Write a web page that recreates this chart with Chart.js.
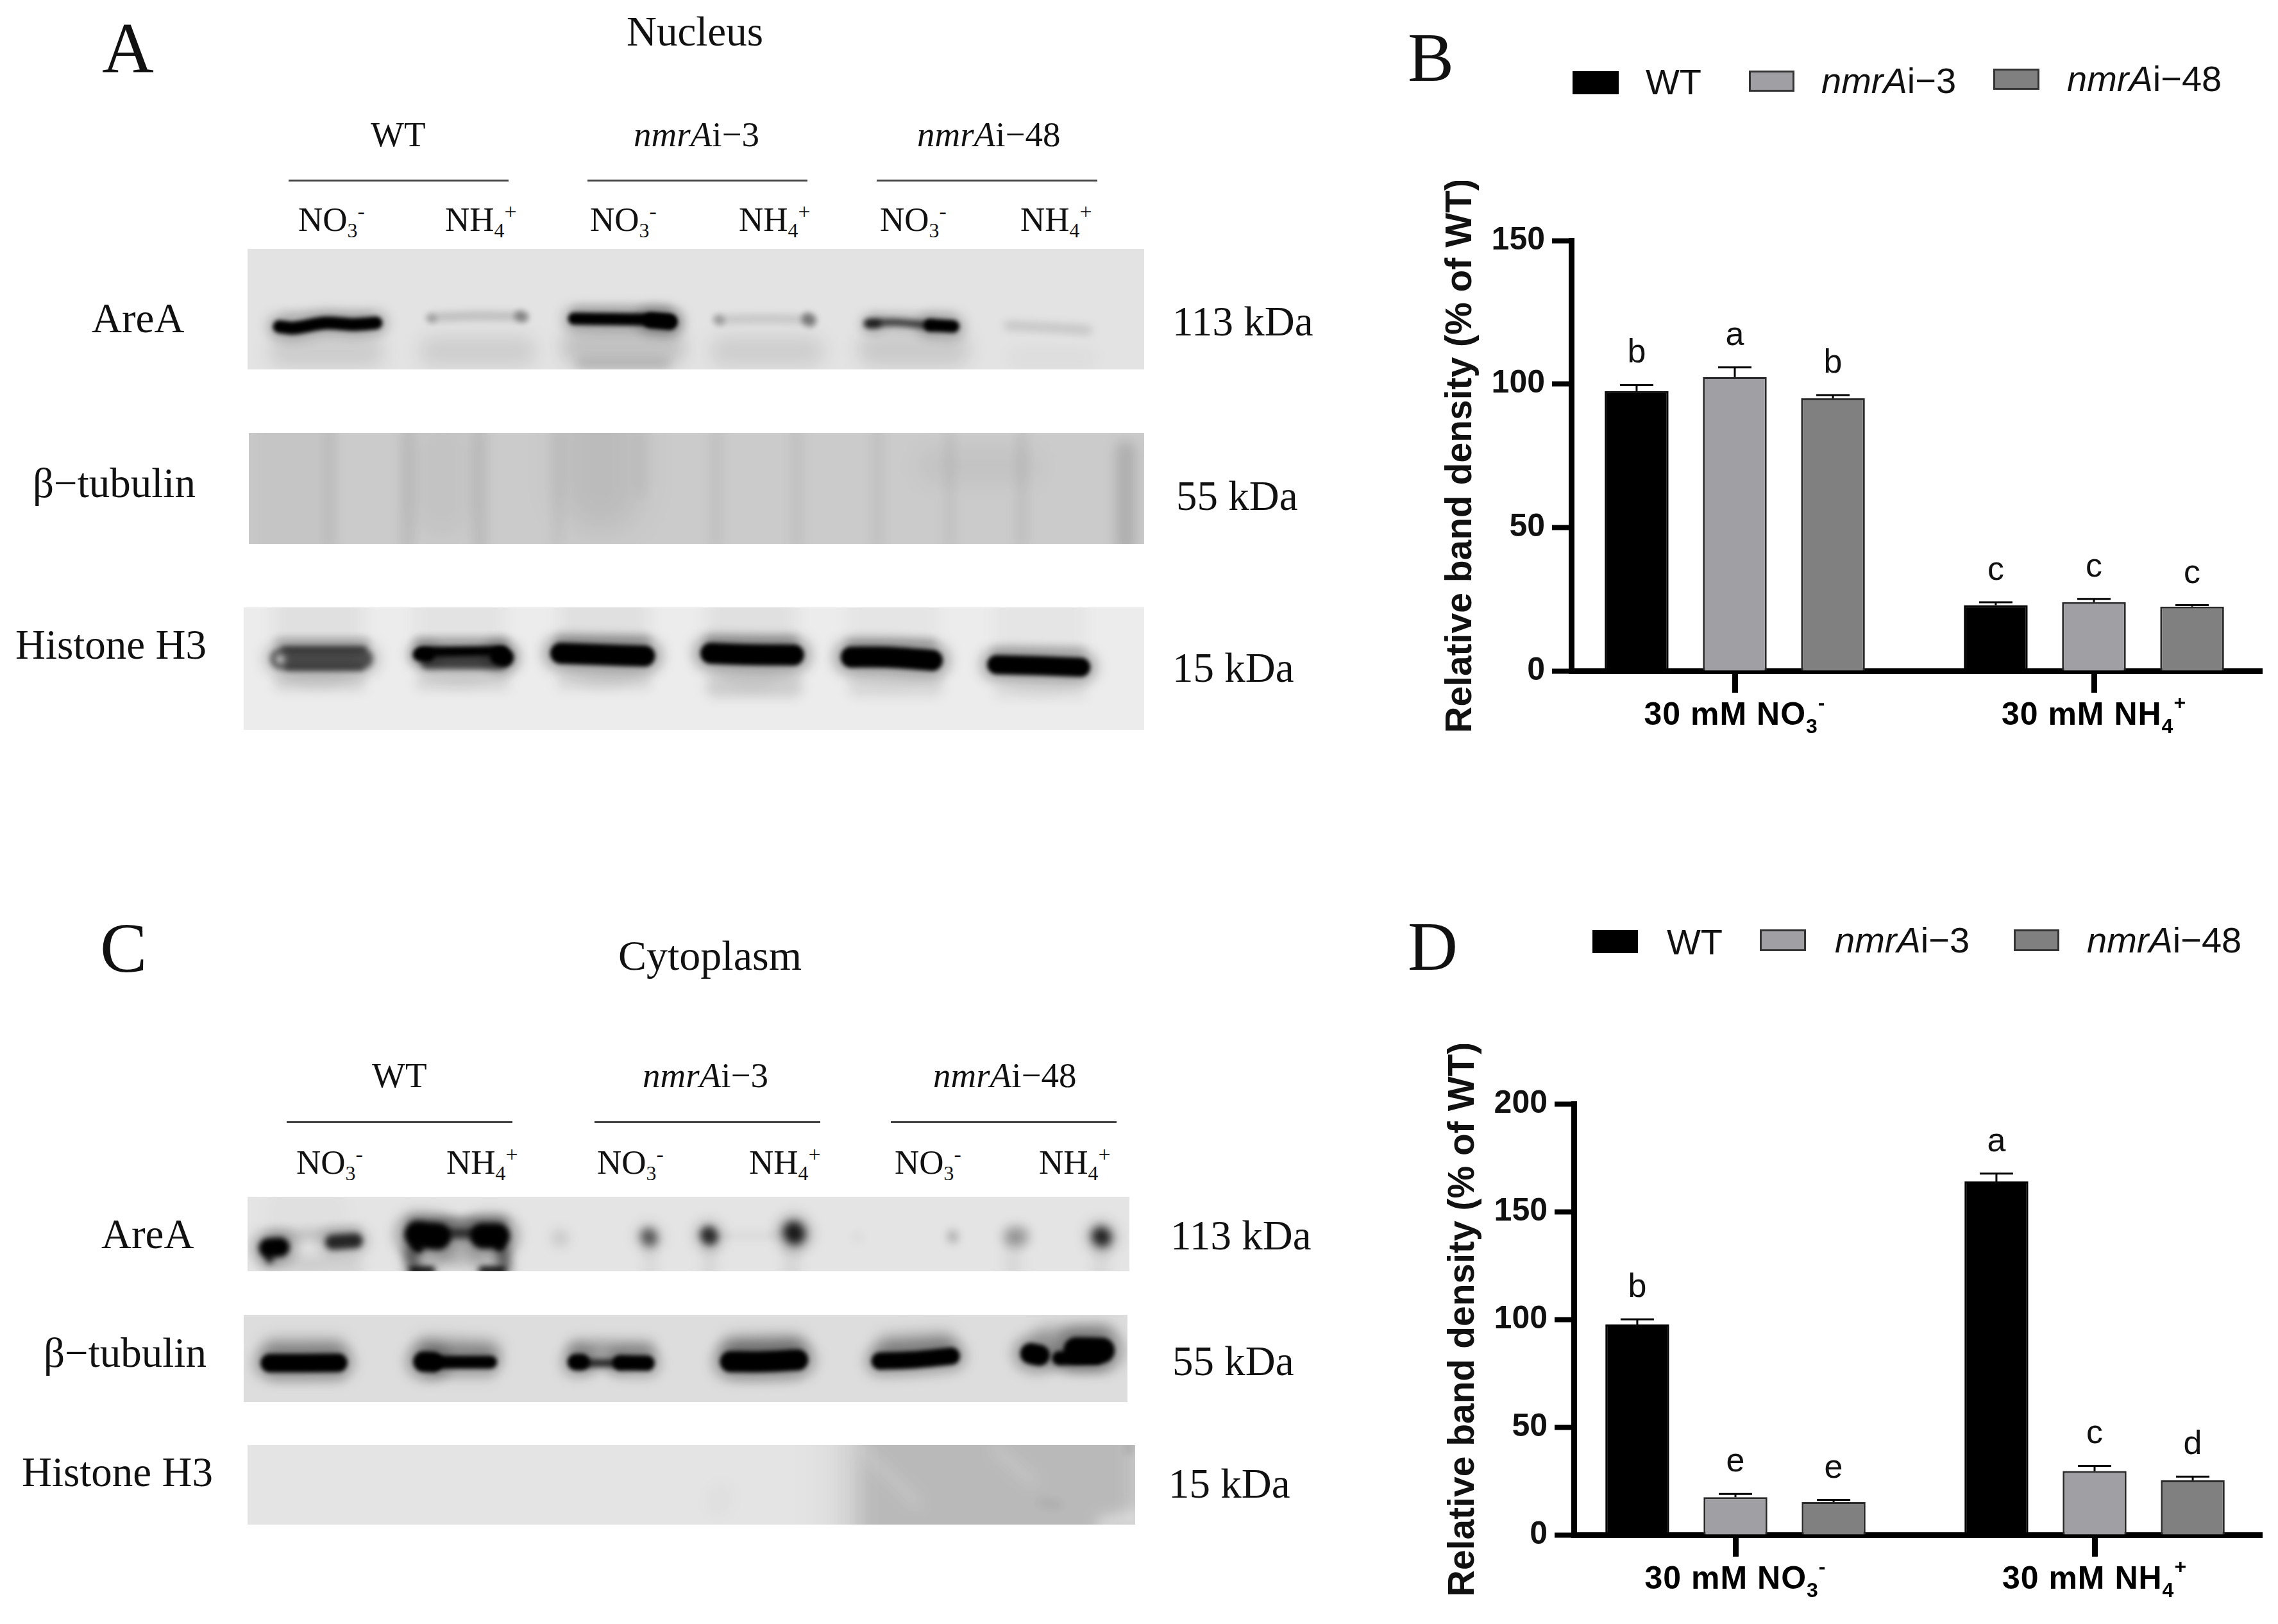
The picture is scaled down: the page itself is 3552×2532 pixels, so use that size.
<!DOCTYPE html>
<html>
<head>
<meta charset="utf-8">
<title>AreA western blots</title>
<script src="https://cdn.jsdelivr.net/npm/chart.js@4/dist/chart.umd.min.js"></script>
<style>
    html, body { margin: 0; padding: 0; background: #fff; }
    #page { position: relative; width: 3552px; height: 2532px; overflow: hidden; background: #fff; }
    #page canvas { position: absolute; display: block; }
    .t { position: absolute; white-space: nowrap; line-height: 1; color: #111; }
    .serif { font-family: "Liberation Serif", serif; }
    .sans { font-family: "Liberation Sans", sans-serif; }
    .rule { position: absolute; height: 3px; background: #444; }
    .swatch { position: absolute; box-sizing: border-box; border: 3px solid #333; }
</style>
</head>
<body>
<div id="page"></div>
<script>
// Panel B and D values
const groupLabels = ['30 mM NO', '30 mM NH'];
const groupSubs = ['3', '4'];
const groupSups = ['-', '+'];
const seriesNames = ['WT', 'nmrAi\u22123', 'nmrAi\u221248'];
const seriesColors = ['#000000', '#a0a0a4', '#808080'];

const nucleusWT = [97.5, 22.9];
const nucleusI3 = [102.4, 24.0];
const nucleusI48 = [95.0, 22.4];
const nucleusErrWT = [2.1, 1.0];
const nucleusErrI3 = [3.4, 1.1];
const nucleusErrI48 = [1.1, 0.5];
const nucleusLetters = [['b', 'c'], ['a', 'c'], ['b', 'c']];
const nucleusTicks = [0, 50, 100, 150];

const cytoWT = [97.6, 164.0];
const cytoI3 = [17.5, 29.6];
const cytoI48 = [15.2, 25.3];
const cytoErrWT = [2.4, 3.6];
const cytoErrI3 = [1.5, 2.4];
const cytoErrI48 = [1.0, 1.7];
const cytoLetters = [['b', 'a'], ['e', 'c'], ['e', 'd']];
const cytoTicks = [0, 50, 100, 150, 200];

// Blot smears: [points on the crop grid, width, alpha, blur, colour]
const nucAreaA = [
    [[[70, 500], [215, 500]], 50, .1, 14], [[[330, 500], [480, 500]], 50, .09, 14],
    [[[585, 480], [730, 480]], 64, .15, 14], [[[585, 560], [730, 560]], 18, .12, 8],
    [[[835, 500], [980, 500]], 50, .09, 14], [[[1095, 490], [1230, 490]], 56, .11, 14],
    [[[1345, 530], [1460, 530]], 30, .03, 12],
    [[[70, 330], [215, 330]], 12, .1, 7], [[[575, 305], [735, 305]], 14, .12, 7],
    [[[1090, 330], [1230, 330]], 10, .08, 7],
    [[[60, 385], [85, 392], [140, 368], [190, 375], [228, 368]], 20, 1, 3],
    [[[330, 342], [400, 335], [480, 338]], 14, .17, 6], [[[478, 336], [484, 340]], 17, .35, 5], [[[322, 345], [325, 348]], 14, .25, 5],
    [[[572, 348], [640, 350], [700, 352], [738, 358]], 19, 1, 3], [[[705, 356], [738, 364]], 24, 1, 3],
    [[[825, 352], [900, 348], [980, 352]], 14, .13, 6], [[[978, 350], [982, 356]], 20, .42, 5], [[[822, 352], [825, 356]], 16, .25, 5],
    [[[1082, 370], [1130, 365], [1190, 380]], 12, .65, 4], [[[1190, 378], [1230, 384]], 20, 1, 3], [[[1085, 372], [1098, 372]], 13, .6, 4],
    [[[1325, 380], [1400, 390], [1465, 402]], 12, .16, 7]
];
const nucTubulin = [
    [[[80, 18], [80, 532]], 120, .03, 20], [[[150, 18], [150, 532]], 20, .07, 9],
    [[[285, 18], [285, 532]], 22, .08, 9], [[[410, 18], [410, 532]], 24, .08, 9],
    [[[345, 100], [345, 350]], 100, .04, 18], [[[545, 18], [545, 532]], 18, .05, 9],
    [[[620, 18], [620, 280]], 130, .08, 26], [[[690, 18], [690, 300]], 18, .04, 9],
    [[[820, 18], [820, 532]], 18, .06, 9], [[[960, 18], [960, 532]], 18, .06, 9],
    [[[1100, 18], [1100, 532]], 20, .05, 9], [[[1225, 18], [1225, 532]], 16, .06, 9],
    [[[1350, 18], [1350, 532]], 16, .07, 9], [[[1530, 100], [1530, 532]], 30, .15, 10],
    [[[1200, 170], [1350, 170]], 60, .04, 16]
];
const nucHistone = [
    [[[135, 30], [135, 190]], 140, .05, 12], [[[380, 30], [380, 190]], 140, .04, 12], [[[630, 40], [630, 190]], 140, .05, 12],
    [[[885, 40], [885, 190]], 140, .05, 12], [[[1130, 40], [1130, 190]], 140, .03, 12], [[[1385, 40], [1385, 230]], 140, .03, 12],
    [[[70, 370], [205, 370]], 22, .13, 9], [[[315, 370], [455, 370]], 22, .11, 9], [[[560, 365], [700, 365]], 22, .11, 9],
    [[[825, 385], [955, 385]], 36, .13, 9], [[[1070, 385], [1200, 385]], 34, .09, 9], [[[1315, 410], [1455, 410]], 20, .08, 9],
    [[[65, 180], [220, 180]], 10, .22, 7], [[[305, 175], [460, 175]], 10, .25, 7], [[[550, 170], [705, 170]], 10, .28, 7],
    [[[810, 170], [960, 170]], 10, .28, 7], [[[1055, 185], [1200, 185]], 10, .25, 7], [[[1305, 220], [1460, 220]], 8, .2, 7],
    [[[70, 258], [212, 258]], 32, .6, 5], [[[75, 212], [215, 212]], 7, .65, 4], [[[80, 302], [210, 302]], 7, .5, 4],
    [[[68, 258], [70, 262]], 12, .9, 6, '255,255,255'],
    [[[315, 226], [455, 222]], 16, 1, 3], [[[325, 270], [450, 272]], 24, .62, 4], [[[310, 238], [325, 240]], 20, 1, 3], [[[448, 245], [458, 252]], 28, 1, 3],
    [[[555, 232], [620, 238], [700, 245]], 33, 1, 3],
    [[[815, 232], [880, 238], [958, 240]], 33, 1, 3],
    [[[1058, 250], [1120, 250], [1198, 265]], 33, 1, 3],
    [[[1310, 285], [1380, 290], [1455, 297]], 30, 1, 3]
];
const cytAreaA = [
    [[[40, 335], [195, 340]], 24, .1, 10], [[[110, 100], [110, 190]], 120, .02, 14],
    [[[45, 205], [195, 185]], 18, .14, 8],
    [[[42, 258], [62, 255]], 30, 1, 4], [[[42, 290], [44, 315]], 11, .75, 5],
    [[[155, 232], [195, 225]], 23, .78, 5],
    [[[295, 140], [455, 140]], 16, .42, 8],
    [[[305, 195], [340, 205]], 42, 1, 4], [[[302, 245], [306, 258]], 16, .95, 4],
    [[[420, 202], [445, 202]], 40, 1, 4], [[[448, 235], [450, 252]], 14, .95, 4], [[[345, 190], [410, 190]], 16, .65, 5],
    [[[292, 280], [298, 350]], 16, .55, 8], [[[455, 280], [458, 350]], 16, .55, 8],
    [[[345, 300], [410, 300]], 26, .25, 12],
    [[[295, 362], [330, 362]], 10, 1, 5], [[[418, 362], [455, 362]], 10, 1, 5],
    [[[715, 250], [715, 368]], 22, .05, 9], [[[820, 250], [820, 368]], 24, .06, 9], [[[965, 250], [965, 368]], 28, .06, 9],
    [[[1355, 250], [1355, 368]], 28, .05, 9], [[[1510, 250], [1510, 368]], 28, .05, 9],
    [[[555, 210], [557, 215]], 26, .12, 9], [[[712, 203], [714, 213]], 24, .55, 7],
    [[[818, 197], [820, 205]], 26, .75, 6], [[[840, 200], [950, 200]], 8, .07, 7],
    [[[968, 183], [970, 193]], 32, .85, 7], [[[1080, 205], [1082, 210]], 14, .05, 7],
    [[[1248, 198], [1249, 212]], 16, .25, 7], [[[1355, 205], [1365, 205]], 30, .35, 9],
    [[[1510, 203], [1512, 209]], 28, .8, 7]
];
const cytTubulin = [
    [[[55, 175], [170, 175]], 28, .3, 12], [[[325, 170], [440, 185]], 28, .36, 12],
    [[[590, 175], [715, 180]], 26, .3, 10], [[[865, 170], [975, 165]], 32, .38, 12],
    [[[1135, 165], [1240, 150]], 30, .34, 12], [[[1410, 120], [1520, 105]], 26, .3, 12],
    [[[60, 300], [175, 300]], 20, .12, 10], [[[330, 295], [440, 295]], 20, .1, 10], [[[870, 295], [975, 295]], 20, .1, 10],
    [[[52, 245], [110, 245], [172, 243]], 29, 1, 3],
    [[[322, 238], [338, 240]], 32, 1, 3], [[[345, 240], [440, 240]], 20, 1, 3],
    [[[590, 240], [600, 240]], 26, 1, 3], [[[668, 243], [715, 245]], 24, 1, 3], [[[610, 245], [670, 245]], 12, .75, 4],
    [[[862, 238], [920, 238], [980, 230]], 33, 1, 3],
    [[[1125, 235], [1180, 230], [1250, 212]], 27, 1, 3],
    [[[1390, 200], [1405, 208]], 33, 1, 3], [[[1470, 183], [1515, 185]], 40, 1, 3], [[[1440, 222], [1505, 218]], 22, 1, 3]
];
const cytHistone = [
    [[[1345, 22], [1345, 392]], 560, .06, 32], [[[1330, 22], [1330, 392]], 470, .08, 24], [[[1320, 22], [1320, 392]], 420, .07, 14],
    [[[840, 250], [830, 300]], 24, .04, 14],
    [[[1085, 40], [1180, 290]], 14, .17, 10, '255,255,255'], [[[1320, 40], [1385, 190]], 14, .17, 10, '255,255,255'],
    [[[1510, 390], [1565, 360]], 24, .45, 10, '255,255,255'], [[[1400, 290], [1430, 300]], 12, .08, 7],
    [[[1555, 22], [1555, 50]], 14, .1, 6]
];

function styleText(html, cls, left, baseline, size, extra) {
    const el = document.createElement('div');
    el.className = 't ' + cls;
    el.innerHTML = html;
    const k = cls === 'serif' ? 0.8375 : 0.8465;
    el.style.left = left + 'px';
    el.style.top = (baseline - k * size) + 'px';
    el.style.fontSize = size + 'px';
    if (extra) el.style.cssText += extra;
    document.getElementById('page').appendChild(el);
}

function strainHtml(name) {
    // nmrA part is italic, the rest is not
    return name.startsWith('nmrA') ? '<i>nmrA</i>' + name.slice(4) : name;
}

function chem(base, sub, sup) {
    return base + '<span style="position:relative;top:.32em;font-size:.6em">' + sub + '</span>' +
        '<span style="position:relative;top:-.55em;font-size:.64em">' + sup + '</span>';
}

function addRule(x0, x1, y) {
    const el = document.createElement('div');
    el.className = 'rule';
    el.style.left = x0 + 'px';
    el.style.width = (x1 - x0) + 'px';
    el.style.top = (y - 1) + 'px';
    document.getElementById('page').appendChild(el);
}

function addSwatch(x0, x1, y0, y1, color) {
    const el = document.createElement('div');
    el.className = 'swatch';
    el.style.cssText = `left:${x0}px;top:${y0}px;width:${x1 - x0}px;height:${y1 - y0}px;background:${color}`;
    if (color === '#000000') el.style.borderColor = '#000';
    document.getElementById('page').appendChild(el);
}

function addCanvas(left, top, width, height) {
    const c = document.createElement('canvas');
    c.width = width;
    c.height = height;
    c.style.left = left + 'px';
    c.style.top = top + 'px';
    c.style.width = width + 'px';
    c.style.height = height + 'px';
    document.getElementById('page').appendChild(c);
    return c;
}

// Blur each smear on its own so a blot band looks soft like the film
const blurPlugin = {
    id: 'blur',
    beforeDatasetDraw(chart, args) {
        const b = chart.data.datasets[args.index].blurPx;
        chart.ctx.filter = 'blur(' + b + 'px)';
    },
    afterDatasetDraw(chart) {
        chart.ctx.filter = 'none';
    }
};

function strokeToDataset(s) {
    return {
        data: s[0].map(pt => ({ x: pt[0], y: pt[1] })),
        borderWidth: s[1],
        borderColor: 'rgba(' + (s[4] || '0,0,0') + ',' + s[2] + ')',
        blurPx: s[3] === undefined ? 4 : s[3],
        borderCapStyle: 'round',
        borderJoinStyle: 'round',
        tension: 0.3,
        pointRadius: 0
    };
}

function createBlot(rect, grid, bg, strokes) {
    const c = addCanvas(rect[0], rect[1], rect[2] - rect[0], rect[3] - rect[1]);
    c.style.background = bg;
    // dark bands also get a wider soft halo underneath
    const all = [];
    strokes.forEach(s => {
        if (s[2] >= 0.5 && !s[4]) all.push([s[0], s[1] * 1.7, s[2] * 0.3, 10]);
        all.push(s);
    });
    const datasets = all.reverse().map(strokeToDataset);
    return new Chart(c, {
        type: 'line',
        data: { datasets: datasets },
        plugins: [blurPlugin],
        options: {
            responsive: false,
            animation: false,
            layout: { padding: 0, autoPadding: false },
            plugins: { legend: { display: false }, tooltip: { enabled: false } },
            scales: {
                x: { type: 'linear', display: false, min: grid[0], max: grid[1] },
                y: { type: 'linear', display: false, reverse: true, min: grid[2], max: grid[3] }
            }
        }
    });
}

const barAnnotations = {
    id: 'barAnnotations',
    afterDatasetsDraw(chart) {
        const ctx = chart.ctx;
        const yScale = chart.scales.y;
        const xScale = chart.scales.x;
        ctx.save();
        chart.data.datasets.forEach((ds, i) => {
            chart.getDatasetMeta(i).data.forEach((bar, j) => {
                const top = yScale.getPixelForValue(ds.data[j].y + ds.errors[j]);
                const y0 = yScale.getPixelForValue(ds.data[j].y);
                ctx.strokeStyle = '#000';
                ctx.lineWidth = 3;
                ctx.beginPath();
                ctx.moveTo(bar.x, y0);
                ctx.lineTo(bar.x, top);
                ctx.moveTo(bar.x - 26, top);
                ctx.lineTo(bar.x + 26, top);
                ctx.stroke();
                ctx.fillStyle = '#111';
                ctx.font = '52px "Liberation Sans"';
                ctx.textAlign = 'center';
                ctx.textBaseline = 'alphabetic';
                ctx.fillText(ds.letters[j], bar.x, top - 35);
            });
        });
        // x labels with their sub and superscripts
        const baseline = yScale.bottom + 84;
        ctx.letterSpacing = '1px';
        groupLabels.forEach((label, i) => {
            const cx = xScale.getPixelForValue(i);
            ctx.textAlign = 'left';
            ctx.font = 'bold 50px "Liberation Sans"';
            const w0 = ctx.measureText(label).width;
            ctx.font = 'bold 32px "Liberation Sans"';
            const w1 = ctx.measureText(groupSubs[i]).width;
            const w2 = ctx.measureText(groupSups[i]).width;
            const x0 = cx - (w0 + w1 + w2) / 2;
            ctx.fillStyle = '#000';
            ctx.font = 'bold 50px "Liberation Sans"';
            ctx.fillText(label, x0, baseline);
            ctx.font = 'bold 32px "Liberation Sans"';
            ctx.fillText(groupSubs[i], x0 + w0, baseline + 13);
            ctx.fillText(groupSups[i], x0 + w0 + w1, baseline - 24);
        });
        ctx.restore();
    }
};

function createBars(box, xCentre, values, errors, letters, yMax, yTicks) {
    // box: axis x, right end, y of top tick, y of zero
    const left = box[0] - 280;
    const top = box[2] - 93;
    const c = addCanvas(left, top, box[1] + 25 - left, 880);
    const plotH = box[3] - box[2];
    const datasets = seriesNames.map((name, i) => ({
        label: name,
        data: values[i].map((v, j) => ({ x: j, y: v })),
        errors: errors[i],
        letters: letters[i],
        backgroundColor: seriesColors[i],
        borderColor: i === 0 ? '#000' : '#2a2a2a',
        borderWidth: 3,
        categoryPercentage: 0.82,
        barPercentage: 0.65
    }));
    return new Chart(c, {
        type: 'bar',
        data: { datasets: datasets },
        plugins: [barAnnotations],
        options: {
            responsive: false,
            animation: false,
            layout: { padding: { top: 93, right: 25, left: 0, bottom: 0 }, autoPadding: false },
            plugins: { legend: { display: false }, tooltip: { enabled: false } },
            scales: {
                x: {
                    type: 'linear',
                    offset: false,
                    min: (box[0] - xCentre) / 560,
                    max: (box[1] - xCentre) / 560,
                    afterBuildTicks: s => { s.ticks = [{ value: 0 }, { value: 1 }]; },
                    afterFit: s => { s.height = 880 - 93 - plotH; },
                    ticks: { display: false },
                    border: { display: true, color: '#000', width: 9 },
                    grid: { offset: false, drawOnChartArea: false, drawTicks: true, tickLength: 34, tickWidth: 9, tickColor: '#000' }
                },
                y: {
                    min: 0,
                    max: yMax,
                    afterBuildTicks: s => { s.ticks = yTicks.map(v => ({ value: v })); },
                    afterFit: s => { s.width = 280; },
                    ticks: {
                        padding: 11,
                        color: '#111',
                        font: { family: '"Liberation Sans"', weight: 'bold', size: 50 }
                    },
                    border: { display: true, color: '#000', width: 9 },
                    grid: { drawOnChartArea: false, drawTicks: true, tickLength: 30, tickWidth: 8, tickColor: '#000' },
                    title: {
                        display: true,
                        text: 'Relative band density (% of WT)',
                        color: '#111',
                        padding: { top: 74, bottom: 0 },
                        font: { family: '"Liberation Sans"', weight: 'bold', size: 57 }
                    }
                }
            }
        }
    });
}

// Panel letters and titles
styleText('A', 'serif', 159, 113, 112);
styleText('B', 'serif', 2195, 126, 108);
styleText('C', 'serif', 156, 1515, 110);
styleText('D', 'serif', 2195, 1512, 108);
styleText('Nucleus', 'serif', 977, 71, 65);
styleText('Cytoplasm', 'serif', 964, 1512, 66);

// Left column, strain headers and the lane row
[[578, 988, 1430, 228, [465, 694, 920, 1152, 1372, 1591], 360],
 [580, 1002, 1455, 1695, [462, 696, 931, 1168, 1395, 1620], 1830]].forEach(row => {
    seriesNames.forEach((name, i) => styleText(strainHtml(name), 'serif', row[i], row[3], 55));
    row[4].forEach((x, i) => {
        const k = i % 2;
        styleText(chem(k ? 'NH' : 'NO', k ? '4' : '3', k ? '+' : '-'), 'serif', x, row[5], 53);
    });
});
addRule(450, 793, 281); addRule(916, 1259, 281); addRule(1367, 1711, 281);
addRule(447, 799, 1749); addRule(927, 1279, 1749); addRule(1389, 1741, 1749);

const rowLabels = [
    ['AreA', 143, 518, '113 kDa', 1828, 523],
    ['\u03b2\u2212tubulin', 51, 775, '55 kDa', 1834, 795],
    ['Histone H3', 24, 1027, '15 kDa', 1828, 1063],
    ['AreA', 158, 1946, '113 kDa', 1825, 1948],
    ['\u03b2\u2212tubulin', 68, 2131, '55 kDa', 1828, 2144],
    ['Histone H3', 34, 2317, '15 kDa', 1822, 2335]
];
rowLabels.forEach(r => {
    styleText(r[0], 'serif', r[1], r[2], 65);
    styleText(r[3], 'serif', r[4], r[5], 65);
});

createBlot([386, 388, 1784, 576], [5, 1562, 22, 585], '#e3e3e3', nucAreaA);
createBlot([388, 675, 1784, 848], [10, 1562, 18, 532], '#cbcbcb', nucTubulin);
createBlot([380, 947, 1784, 1138], [6, 1565, 18, 590], '#ececec', nucHistone);
createBlot([386, 1866, 1761, 1982], [5, 1560, 18, 368], '#e4e4e4', cytAreaA);
createBlot([380, 2050, 1758, 2186], [6, 1560, 18, 428], '#dddddd', cytTubulin);
createBlot([386, 2253, 1770, 2377], [5, 1565, 22, 392], '#e4e4e4', cytHistone);

// Legends
addSwatch(2452, 2524, 111, 147, seriesColors[0]);
addSwatch(2727, 2798, 110, 143, seriesColors[1]);
addSwatch(3108, 3180, 107, 140, seriesColors[2]);
styleText(strainHtml(seriesNames[0]), 'sans', 2566, 147, 56);
styleText(strainHtml(seriesNames[1]), 'sans', 2840, 145, 56);
styleText(strainHtml(seriesNames[2]), 'sans', 3223, 142, 56);

addSwatch(2483, 2554, 1450, 1486, seriesColors[0]);
addSwatch(2744, 2816, 1449, 1483, seriesColors[1]);
addSwatch(3140, 3211, 1449, 1483, seriesColors[2]);
styleText(strainHtml(seriesNames[0]), 'sans', 2599, 1488, 56);
styleText(strainHtml(seriesNames[1]), 'sans', 2861, 1485, 56);
styleText(strainHtml(seriesNames[2]), 'sans', 3254, 1485, 56);

createBars([2450, 3527, 375, 1046], 2705,
    [nucleusWT, nucleusI3, nucleusI48],
    [nucleusErrWT, nucleusErrI3, nucleusErrI48],
    nucleusLetters, 150, nucleusTicks);
createBars([2454, 3527, 1721, 2393], 2706,
    [cytoWT, cytoI3, cytoI48],
    [cytoErrWT, cytoErrI3, cytoErrI48],
    cytoLetters, 200, cytoTicks);
</script>
</body>
</html>
